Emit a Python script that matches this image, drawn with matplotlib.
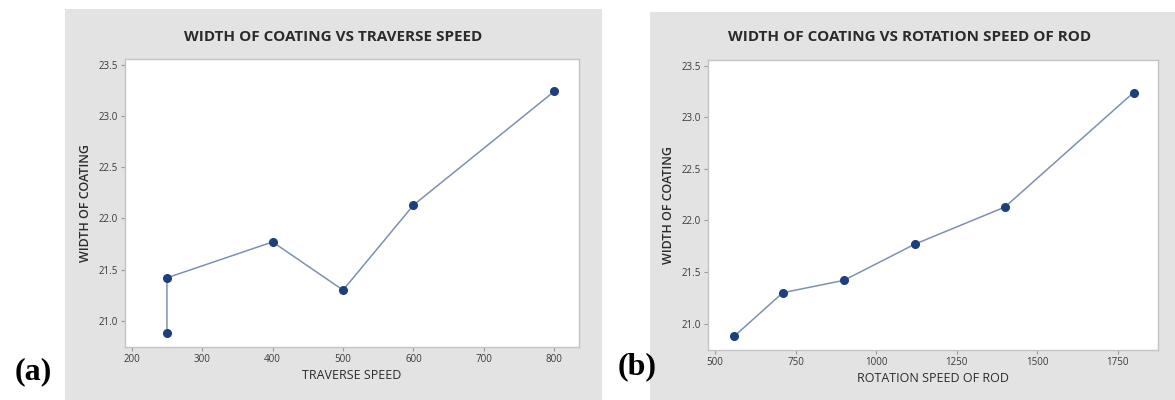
import numpy as np
import matplotlib
matplotlib.use("Agg")
import matplotlib.pyplot as plt
from matplotlib.patches import Rectangle

# width of coating readings (same six runs, two views)
traverse_speed = [250, 250, 400, 500, 600, 800]
width_vs_traverse = [20.88, 21.42, 21.77, 21.30, 22.13, 23.24]

rotation_speed = [560, 710, 900, 1120, 1400, 1800]
width_vs_rotation = [20.88, 21.30, 21.42, 21.77, 22.13, 23.24]

y_ticks = [21.0, 21.5, 22.0, 22.5, 23.0, 23.5]
x_ticks_a = [200, 300, 400, 500, 600, 700, 800]
x_ticks_b = [500, 750, 1000, 1250, 1500, 1750]

plt.rcParams['font.family'] = ['Open Sans', 'DejaVu Sans']

panel_gray = "#e3e3e3"
line_col = "#7d90b4"
marker_col = "#1d3f7c"
text_col = "#2b2b2b"

fig = plt.figure(figsize=(11.75, 4), dpi=100)
fig.patch.set_facecolor("white")

# gray minitab-like panels behind each chart
fig.patches.append(Rectangle((0.0553, 0.0), 0.457, 0.9775, transform=fig.transFigure,
                             facecolor=panel_gray, edgecolor="none", zorder=-5))
fig.patches.append(Rectangle((0.553, 0.0), 0.447, 0.97, transform=fig.transFigure,
                             facecolor=panel_gray, edgecolor="none", zorder=-5))

ax1 = fig.add_axes([0.1064, 0.1325, 0.3864, 0.72])
ax2 = fig.add_axes([0.6026, 0.125, 0.383, 0.725])


def style(ax, x, y, xticks, xlim, xlabel):
    ax.set_zorder(2)
    ax.plot(x, y, color=line_col, lw=1.1, zorder=2)
    ax.plot(x, y, 'o', color=marker_col, ms=5.5, zorder=3)
    ax.set_xlim(*xlim)
    ax.set_ylim(20.745, 23.555)
    ax.set_xticks(xticks)
    ax.set_yticks(y_ticks)
    ax.set_yticklabels([f"{v:.1f}" for v in y_ticks])
    ax.set_facecolor("white")
    for s in ax.spines.values():
        s.set_color("#c4c4c4")
        s.set_linewidth(1.0)
    ax.tick_params(direction='out', length=3, width=0.8, color="#9a9a9a",
                   labelsize=7, labelcolor="#3a3a3a", pad=2)
    ax.set_xlabel(xlabel, fontsize=9, color=text_col, labelpad=3)
    ax.set_ylabel("WIDTH OF COATING", fontsize=9, color=text_col,
                  fontweight='semibold', labelpad=5)


style(ax1, traverse_speed, width_vs_traverse, x_ticks_a, (190.5, 835), "TRAVERSE SPEED")
style(ax2, rotation_speed, width_vs_rotation, x_ticks_b, (478, 1876), "ROTATION SPEED OF ROD")

fig.text(0.2834, 0.9075, "WIDTH OF COATING VS TRAVERSE SPEED", ha='center', va='center',
         fontsize=11, fontweight='bold', color=text_col)
fig.text(0.7745, 0.9075, "WIDTH OF COATING VS ROTATION SPEED OF ROD", ha='center', va='center',
         fontsize=11, fontweight='bold', color=text_col)

fig.text(0.028, 0.07, "(a)", ha='center', va='center', fontsize=23, fontweight='bold',
         family=['Liberation Serif', 'DejaVu Serif'], color="black")
fig.text(0.542, 0.0825, "(b)", ha='center', va='center', fontsize=23, fontweight='bold',
         family=['Liberation Serif', 'DejaVu Serif'], color="black")

fig.savefig("out.png", dpi=100, facecolor=fig.get_facecolor())
